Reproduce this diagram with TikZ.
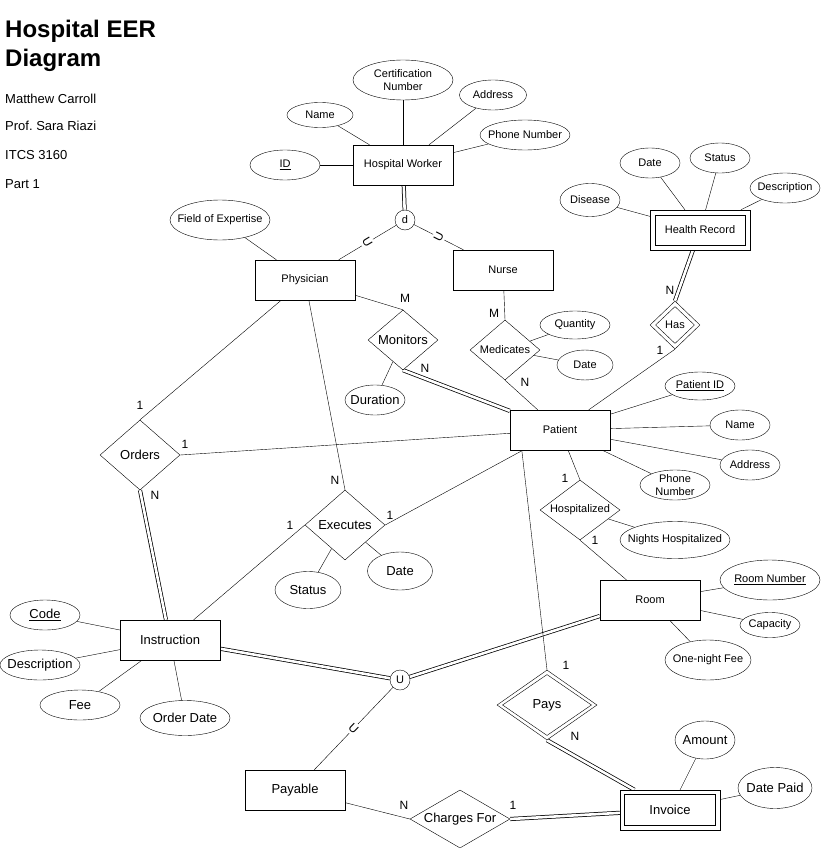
\documentclass[tikz,border=0pt]{standalone}
\usepackage{fontspec}
\setmainfont{Liberation Sans}
\usetikzlibrary{shapes.geometric,calc}
\newcommand\fs{\fontsize{11}{13}\selectfont}
\newcommand\fm{\fontsize{13}{15}\selectfont}
\newcommand\fl{\fontsize{12}{14}\selectfont}
\pgfdeclarelayer{bg}
\pgfsetlayers{bg,main}
\frenchspacing
\begin{document}
\begin{tikzpicture}[x=1pt,y=-1pt,line width=1pt,
  ent/.style={draw, rectangle, fill=white, minimum width=100pt, minimum height=40pt, inner sep=0pt, font=\fs},
  attr/.style={draw, ellipse, fill=white, inner sep=0pt},
  rel/.style={draw, diamond, fill=white, inner sep=0pt},
  circ/.style={draw, circle, fill=white, minimum size=20pt, inner sep=0pt, font=\fs},
  lbl/.style={font=\fl, inner sep=0pt},
  sub/.style={fill=white, inner sep=2pt, font=\fl},
  dbl/.style={double, double distance=2.6pt, line width=0.75pt},
  txt/.style={anchor=base west, inner sep=0pt, font=\fm}]
\begin{pgfonlayer}{bg}
\fill[white] (0,0) rectangle (821,848);
\end{pgfonlayer}
\useasboundingbox (0,0) rectangle (821,848);

% title
\node[anchor=base west, inner sep=0pt, font=\fontsize{24}{28}\selectfont\bfseries] (t1) at (5,38) {Hospital EER};
\node[anchor=base west, inner sep=0pt, font=\fontsize{24}{28}\selectfont\bfseries] (t2) at (5,67) {Diagram};
\node[txt] (a1) at (5,103) {Matthew Carroll};
\node[txt] (a2) at (5,131) {Prof. Sara Riazi};
\node[txt] (a3) at (5,159) {ITCS 3160};
\node[txt] (a4) at (5,188) {Part 1};

% entities
\node[ent] (hw) at (403,165) {Hospital Worker};
\node[ent] (phys) at (305,280) {Physician};
\node[ent] (nurse) at (503,270) {Nurse};
\node[ent] (pat) at (560,430) {Patient};
\node[ent] (room) at (650,600) {Room};
\node[ent, font=\fm] (instr) at (170,640) {Instruction};
\node[ent, font=\fm] (payable) at (295,790) {Payable};
\node[ent] (hr) at (700,230) {};
\node[ent, minimum width=90pt, minimum height=30pt] (hri) at (700,230) {Health Record};
\node[ent] (inv) at (670,810) {};
\node[ent, minimum width=91pt, minimum height=31pt, font=\fm] (invi) at (670,810) {Invoice};

% relationships
\node[rel, minimum width=70pt, minimum height=60pt, label={[font=\fm]center:Monitors}] (mon) at (403,340) {};
\node[rel, minimum width=70pt, minimum height=60pt, label={[font=\fs]center:Medicates}] (med) at (505,350) {};
\node[rel, minimum width=50pt, minimum height=48pt] (has) at (675,325) {};
\node[rel, minimum width=39pt, minimum height=37pt, label={[font=\fs]center:Has}] (hasi) at (675,325) {};
\node[rel, minimum width=80pt, minimum height=70pt, label={[font=\fm]center:Orders}] (ord) at (140,455) {};
\node[rel, minimum width=80pt, minimum height=70pt, label={[font=\fm]center:Executes}] (exe) at (345,525) {};
\node[rel, minimum width=80pt, minimum height=60pt, label={[font=\fs]center:Hospitalized}] (hosp) at (580,510) {};
\node[rel, minimum width=100pt, minimum height=70pt] (pays) at (547,705) {};
\node[rel, minimum width=89pt, minimum height=61pt, label={[font=\fm]center:Pays}] (paysi) at (547,705) {};
\node[rel, minimum width=100pt, minimum height=58pt, label={[font=\fm]center:Charges For}] (chg) at (460,819) {};

% circles
\node[circ] (d) at (405,220) {d};
\node[circ] (u) at (400,680) {U};

% attributes
\node[attr, minimum width=100pt, minimum height=40pt, label={[font=\fs, align=center]center:Certification\\Number}] (cert) at (403,80) {};
\node[attr, minimum width=66pt, minimum height=25pt, label={[font=\fs]center:Name}] (hwname) at (320,115) {};
\node[attr, minimum width=67pt, minimum height=30pt, label={[font=\fs]center:Address}] (hwaddr) at (493,95) {};
\node[attr, minimum width=90pt, minimum height=30pt, label={[font=\fs]center:Phone Number}] (hwphone) at (525,135) {};
\node[attr, minimum width=70pt, minimum height=30pt, label={[font=\fs]center:\underline{ID}}] (hwid) at (285,165) {};
\node[attr, minimum width=100pt, minimum height=40pt, label={[font=\fs]center:Field of Expertise}] (fe) at (220,220) {};
\node[attr, minimum width=60pt, minimum height=30pt, label={[font=\fm]center:Duration}] (dur) at (375,400) {};
\node[attr, minimum width=70pt, minimum height=28pt, label={[font=\fs]center:Quantity}] (qty) at (575,325) {};
\node[attr, minimum width=56pt, minimum height=30pt, label={[font=\fs]center:Date}] (mdate) at (585,365) {};
\node[attr, minimum width=60pt, minimum height=30pt, label={[font=\fs]center:Date}] (hrdate) at (650,163) {};
\node[attr, minimum width=60pt, minimum height=30pt, label={[font=\fs]center:Status}] (hrstat) at (720,158) {};
\node[attr, minimum width=70pt, minimum height=30pt, label={[font=\fs]center:Description}] (hrdesc) at (785,188) {};
\node[attr, minimum width=60pt, minimum height=33pt, label={[font=\fs]center:Disease}] (hrdis) at (590,200) {};
\node[attr, minimum width=70pt, minimum height=28pt, label={[font=\fs]center:\underline{Patient ID}}] (pid) at (700,386) {};
\node[attr, minimum width=60pt, minimum height=30pt, label={[font=\fs]center:Name}] (pname) at (740,425) {};
\node[attr, minimum width=60pt, minimum height=30pt, label={[font=\fs]center:Address}] (paddr) at (750,465) {};
\node[attr, minimum width=70pt, minimum height=30pt, label={[font=\fs, align=center]center:Phone\\Number}] (pphone) at (675,485) {};
\node[attr, minimum width=110pt, minimum height=37pt, label={[font=\fs]center:Nights Hospitalized}] (nights) at (675,540) {};
\node[attr, minimum width=100pt, minimum height=40pt, label={[font=\fs]center:\underline{Room Number}}] (rnum) at (770,580) {};
\node[attr, minimum width=60pt, minimum height=25pt, label={[font=\fs]center:Capacity}] (rcap) at (770,625) {};
\node[attr, minimum width=86pt, minimum height=40pt, label={[font=\fs]center:One-night Fee}] (rfee) at (708,660) {};
\node[attr, minimum width=66pt, minimum height=37pt, label={[font=\fm]center:Status}] (estat) at (308,590) {};
\node[attr, minimum width=65pt, minimum height=38pt, label={[font=\fm]center:Date}] (edate) at (400,571) {};
\node[attr, minimum width=70pt, minimum height=30pt, label={[font=\fm]center:\underline{Code}}] (icode) at (45,615) {};
\node[attr, minimum width=80pt, minimum height=30pt, label={[font=\fm]center:Description}] (idesc) at (40,665) {};
\node[attr, minimum width=80pt, minimum height=30pt, label={[font=\fm]center:Fee}] (ifee) at (80,705) {};
\node[attr, minimum width=90pt, minimum height=35pt, label={[font=\fm]center:Order Date}] (iodate) at (185,718) {};
\node[attr, minimum width=60pt, minimum height=38pt, label={[font=\fm]center:Amount}] (amt) at (705,740) {};
\node[attr, minimum width=74pt, minimum height=41pt, label={[font=\fm]center:Date Paid}] (dpaid) at (775,788) {};

% cardinality labels
\node[lbl] (c1) at (405,298) {M};
\node[lbl] (c2) at (494,313) {M};
\node[lbl] (c3) at (425,368) {N};
\node[lbl] (c4) at (525,382) {N};
\node[lbl] (c5) at (670,290) {N};
\node[lbl] (c6) at (660,350) {1};
\node[lbl] (c7) at (140,405) {1};
\node[lbl] (c8) at (185,444) {1};
\node[lbl] (c9) at (155,495) {N};
\node[lbl] (c10) at (335,480) {N};
\node[lbl] (c11) at (290,525) {1};
\node[lbl] (c12) at (390,515) {1};
\node[lbl] (c13) at (565,478) {1};
\node[lbl] (c14) at (595,540) {1};
\node[lbl] (c15) at (566,665) {1};
\node[lbl] (c16) at (575,736) {N};
\node[lbl] (c17) at (404,805) {N};
\node[lbl] (c18) at (513,805) {1};

\begin{pgfonlayer}{bg}
% hospital worker
\draw[dbl] (hw) -- (d);
\draw (cert) -- (hw);
\draw (hwname) -- (hw);
\draw (hwaddr) -- (hw);
\draw (hwphone) -- (hw);
\draw (hwid) -- (hw);
\draw (d) -- node[sub, rotate=-59] (s1) {U} (phys);
\draw (d) -- node[sub, rotate=63] (s2) {U} (nurse);
\draw (fe) -- (phys);
% monitors / medicates
\draw (phys) -- (mon.north);
\draw[dbl] (mon.south) -- (pat);
\draw (mon) -- (dur);
\draw (nurse) -- (med.north);
\draw (med.south) -- (pat);
\draw (med) -- (qty);
\draw (med) -- (mdate);
% health record
\draw (hrdate) -- (hr);
\draw (hrstat) -- (hr);
\draw (hrdesc) -- (hr);
\draw (hrdis) -- (hr);
\draw[dbl] (hr) -- (has.north);
\draw (has.south) -- (pat);
% patient attributes
\draw (pat) -- (pid);
\draw (pat) -- (pname);
\draw (pat) -- (paddr);
\draw (pat) -- (pphone);
% orders / executes
\draw (phys) -- (ord.north);
\draw (ord.east) -- (pat);
\draw[dbl] (ord.south) -- (instr);
\draw (phys) -- (exe.north);
\draw (exe.east) -- (pat);
\draw (exe.west) -- (instr);
\draw (exe) -- (estat);
\draw (exe) -- (edate);
% hospitalized
\draw (pat) -- (hosp.north);
\draw (hosp.south) -- (room);
\draw (hosp) -- (nights);
\draw (room) -- (rnum);
\draw (room) -- (rcap);
\draw (room) -- (rfee);
% instruction
\draw (icode) -- (instr);
\draw (idesc) -- (instr);
\draw (ifee) -- (instr);
\draw (iodate) -- (instr);
% union
\draw[dbl] (instr) -- (u);
\draw[dbl] (room) -- (u);
\draw (u) -- node[sub, rotate=-44] (s3) {U} (payable);
% pays / invoice
\draw ($(pat.south west)+(12,0)$) -- (pays.north);
\draw[dbl] (pays.south) -- (inv);
\draw (payable) -- (chg.west);
\draw[dbl] (chg.east) -- (inv);
\draw (amt) -- (inv);
\draw (dpaid) -- (inv);
\end{pgfonlayer}
\end{tikzpicture}
\end{document}
